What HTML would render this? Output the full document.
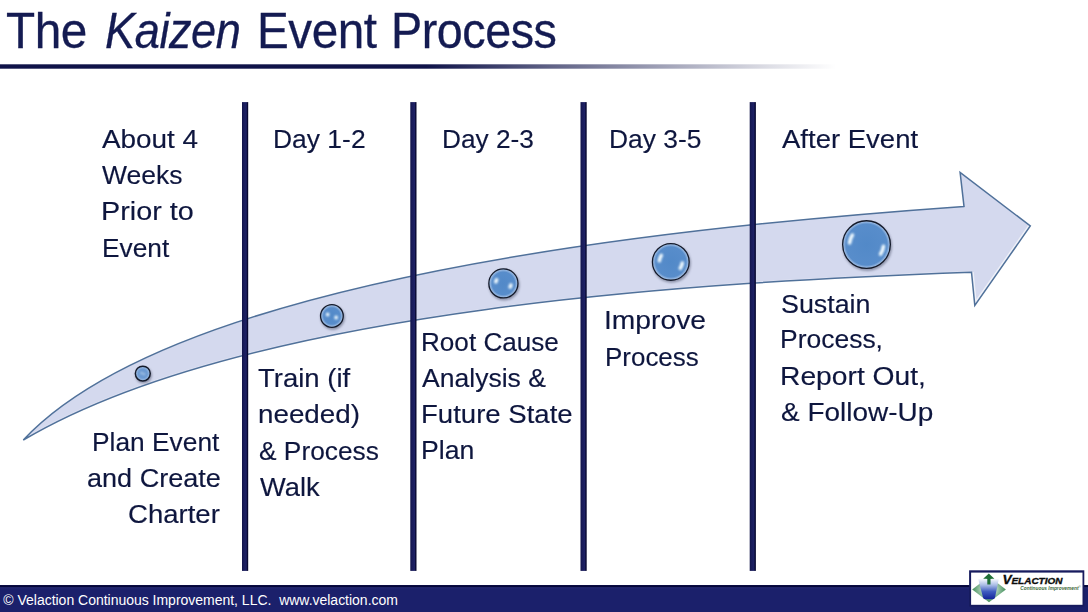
<!DOCTYPE html>
<html lang="en">
<head>
<meta charset="utf-8">
<title>The Kaizen Event Process</title>
<style>
html,body{margin:0;padding:0;}
body{width:1088px;height:612px;position:relative;overflow:hidden;background:#fff;font-family:"Liberation Sans",sans-serif;color:#0e163e;}
h1{position:absolute;margin:0;left:0;top:3px;width:600px;height:56px;font-weight:normal;font-size:50px;line-height:56px;white-space:nowrap;color:#141b52;-webkit-text-stroke:0.3px #141b52;}
h1 span{position:absolute;top:0;display:inline-block;transform-origin:0 0;}
svg.art{position:absolute;left:0;top:0;}
.t{position:absolute;margin:0;font-size:26px;line-height:36px;height:36px;white-space:nowrap;transform-origin:0 0;-webkit-text-stroke:0.15px #0e163e;}
.foot{position:absolute;left:0;top:585px;width:1088px;height:27px;background:linear-gradient(to bottom,#0c0e46 0,#05063a 1.5px,#05063a 2px,#252a72 2.6px,#1e236e 3.6px,#1b206b 5px,#1b206b 100%);}
.foot p{position:absolute;margin:0;left:3.3px;top:6px;font-size:14px;line-height:18px;color:#fff;white-space:pre;letter-spacing:-0.015px;}
</style>
</head>
<body>
<h1><span style="left:6.30px;letter-spacing:-0.50px;transform:scaleX(0.954)">The</span> <span style="left:104.85px;letter-spacing:-0.50px;transform:scaleX(0.904)"><i>Kaizen</i></span> <span style="left:256.85px;letter-spacing:-0.50px;transform:scaleX(0.953)">Event</span> <span style="left:391.05px;letter-spacing:-0.50px;transform:scaleX(0.934)">Process</span></h1>
<svg class="art" width="1088" height="612" viewBox="0 0 1088 612">
<defs>
<linearGradient id="rulefade" gradientUnits="userSpaceOnUse" x1="0" y1="0" x2="836" y2="0">
<stop offset="0" stop-color="#0f1349"/>
<stop offset="0.51" stop-color="#0f1349"/>
<stop offset="0.66" stop-color="#0f1349" stop-opacity="0.66"/>
<stop offset="0.8" stop-color="#0f1349" stop-opacity="0.38"/>
<stop offset="0.92" stop-color="#0f1349" stop-opacity="0.14"/>
<stop offset="1" stop-color="#0f1349" stop-opacity="0"/>
</linearGradient>
<linearGradient id="barg" x1="0" y1="0" x2="1" y2="0"><stop offset="0" stop-color="#111349"/><stop offset="0.3" stop-color="#191c5b"/><stop offset="0.68" stop-color="#1e2165"/><stop offset="0.86" stop-color="#080932"/><stop offset="1" stop-color="#080932"/></linearGradient>
<clipPath id="arrowclip"><path d="M23.3 440 C184.8 267.5 744.3 221.8 964 206.4 L960.1 172.3 L1030.3 226 L974.8 305.4 L971.5 272.3 C715.6 281.6 250.3 306 23.3 440 Z"/></clipPath>
<filter id="soft" filterUnits="userSpaceOnUse" x="100" y="200" width="900" height="200"><feGaussianBlur stdDeviation="1"/></filter>
<filter id="shadow" filterUnits="userSpaceOnUse" x="100" y="200" width="900" height="200"><feGaussianBlur stdDeviation="1.2"/></filter>
<radialGradient id="bg0" cx="50%" cy="50%" r="50%"><stop offset="0" stop-color="#6796d0"/><stop offset="0.580" stop-color="#6c9ad2"/><stop offset="0.827" stop-color="#8fb2de"/><stop offset="1" stop-color="#a9c5e8"/></radialGradient>
<radialGradient id="bg1" cx="50%" cy="50%" r="50%"><stop offset="0" stop-color="#5289c8"/><stop offset="0.717" stop-color="#588dcb"/><stop offset="0.883" stop-color="#8fb2de"/><stop offset="1" stop-color="#a9c5e8"/></radialGradient>
<radialGradient id="bg2" cx="50%" cy="50%" r="50%"><stop offset="0" stop-color="#5289c8"/><stop offset="0.776" stop-color="#588dcb"/><stop offset="0.908" stop-color="#8fb2de"/><stop offset="1" stop-color="#a9c5e8"/></radialGradient>
<radialGradient id="bg3" cx="50%" cy="50%" r="50%"><stop offset="0" stop-color="#5289c8"/><stop offset="0.821" stop-color="#588dcb"/><stop offset="0.926" stop-color="#8fb2de"/><stop offset="1" stop-color="#a9c5e8"/></radialGradient>
<radialGradient id="bg4" cx="50%" cy="50%" r="50%"><stop offset="0" stop-color="#5289c8"/><stop offset="0.861" stop-color="#588dcb"/><stop offset="0.943" stop-color="#8fb2de"/><stop offset="1" stop-color="#a9c5e8"/></radialGradient>
</defs>
<rect x="0" y="64.3" width="836" height="4.4" fill="url(#rulefade)"/>
<path d="M23.3 440 C184.8 267.5 744.3 221.8 964 206.4 L960.1 172.3 L1030.3 226 L974.8 305.4 L971.5 272.3 C715.6 281.6 250.3 306 23.3 440 Z" fill="#d4d9ee"/>
<g clip-path="url(#arrowclip)" fill="none">
<path d="M1030.3 226 L974.8 305.4 L971.5 272.3" stroke="#ffffff" stroke-width="4.5" opacity="0.6" stroke-linejoin="miter"/>
<path d="M971.5 272.3 C715.6 281.6 250.3 306 23.3 440" stroke="#ffffff" stroke-width="3" opacity="0.2"/>
</g>
<path d="M23.3 440 C184.8 267.5 744.3 221.8 964 206.4 L960.1 172.3 L1030.3 226 L974.8 305.4 L971.5 272.3 C715.6 281.6 250.3 306 23.3 440 Z" fill="none" stroke="#50719a" stroke-width="1.5" stroke-linejoin="miter"/>
<g>
<circle cx="143.60" cy="375.20" r="8.40" fill="#4b5068" opacity="0.5" filter="url(#shadow)"/>
<circle cx="142.80" cy="373.60" r="7.45" fill="url(#bg0)" stroke="#141a2a" stroke-width="1.45"/>
<path d="M141.57 373.17 A1.30 1.30 0 0 1 141.58 373.14" fill="none" stroke="#f0faff" stroke-width="1.70" stroke-linecap="round" opacity="1.00" filter="url(#soft)"/>
<path d="M144.03 374.03 A1.30 1.30 0 0 1 144.02 374.06" fill="none" stroke="#f0faff" stroke-width="1.70" stroke-linecap="round" opacity="1.00" filter="url(#soft)"/>
</g>
<g>
<circle cx="332.70" cy="317.60" r="12.30" fill="#4b5068" opacity="0.5" filter="url(#shadow)"/>
<circle cx="331.90" cy="316.00" r="11.35" fill="url(#bg1)" stroke="#141a2a" stroke-width="1.30"/>
<path d="M327.64 314.54 A4.50 4.50 0 0 1 327.70 314.38" fill="none" stroke="#f0faff" stroke-width="3.60" stroke-linecap="round" opacity="1.00" filter="url(#soft)"/>
<path d="M336.16 317.46 A4.50 4.50 0 0 1 336.10 317.62" fill="none" stroke="#f0faff" stroke-width="3.60" stroke-linecap="round" opacity="1.00" filter="url(#soft)"/>
</g>
<g>
<circle cx="504.20" cy="285.00" r="15.50" fill="#4b5068" opacity="0.5" filter="url(#shadow)"/>
<circle cx="503.40" cy="283.40" r="14.55" fill="url(#bg2)" stroke="#141a2a" stroke-width="1.30"/>
<path d="M495.86 281.82 A7.70 7.70 0 0 1 496.61 279.77" fill="none" stroke="#f0faff" stroke-width="3.60" stroke-linecap="round" opacity="1.00" filter="url(#soft)"/>
<path d="M510.94 284.98 A7.70 7.70 0 0 1 510.19 287.03" fill="none" stroke="#f0faff" stroke-width="3.60" stroke-linecap="round" opacity="1.00" filter="url(#soft)"/>
</g>
<g>
<circle cx="671.60" cy="263.50" r="19.30" fill="#4b5068" opacity="0.5" filter="url(#shadow)"/>
<circle cx="670.80" cy="261.90" r="18.35" fill="url(#bg3)" stroke="#141a2a" stroke-width="1.30"/>
<path d="M659.36 260.70 A11.50 11.50 0 0 1 661.27 255.47" fill="none" stroke="#f0faff" stroke-width="3.60" stroke-linecap="round" opacity="1.00" filter="url(#soft)"/>
<path d="M682.24 263.10 A11.50 11.50 0 0 1 680.33 268.33" fill="none" stroke="#f0faff" stroke-width="3.60" stroke-linecap="round" opacity="1.00" filter="url(#soft)"/>
</g>
<g>
<circle cx="867.30" cy="246.20" r="24.80" fill="#4b5068" opacity="0.5" filter="url(#shadow)"/>
<circle cx="866.50" cy="244.60" r="23.85" fill="url(#bg4)" stroke="#141a2a" stroke-width="1.30"/>
<path d="M849.59 242.82 A17.00 17.00 0 0 1 852.41 235.09" fill="none" stroke="#f0faff" stroke-width="3.60" stroke-linecap="round" opacity="1.00" filter="url(#soft)"/>
<path d="M883.41 246.38 A17.00 17.00 0 0 1 880.59 254.11" fill="none" stroke="#f0faff" stroke-width="3.60" stroke-linecap="round" opacity="1.00" filter="url(#soft)"/>
</g>
<g fill="url(#barg)">
<rect x="242.0" y="102.1" width="6.2" height="468.8"/>
<rect x="410.3" y="102.1" width="6.2" height="468.8"/>
<rect x="580.5" y="102.1" width="6.2" height="468.8"/>
<rect x="749.7" y="102.1" width="6.2" height="468.8"/>
</g>
</svg>
<p class="t" style="left:102.30px;top:121px;transform:scaleX(1.072)">About 4</p>
<p class="t" style="left:102.30px;top:157px;transform:scaleX(1.019)">Weeks</p>
<p class="t" style="left:100.95px;top:193px;transform:scaleX(1.106)">Prior to</p>
<p class="t" style="left:101.70px;top:230px;transform:scaleX(1.011)">Event</p>
<p class="t" style="left:273.20px;top:121px;transform:scaleX(1.017)">Day 1-2</p>
<p class="t" style="left:442.30px;top:121px;transform:scaleX(1.010)">Day 2-3</p>
<p class="t" style="left:609.20px;top:121px;transform:scaleX(1.016)">Day 3-5</p>
<p class="t" style="left:781.90px;top:121px;transform:scaleX(1.058)">After Event</p>
<p class="t" style="left:92.40px;top:424px;transform:scaleX(1.013)">Plan Event</p>
<p class="t" style="left:87.10px;top:460px;transform:scaleX(1.041)">and Create</p>
<p class="t" style="left:128.25px;top:496px;transform:scaleX(1.059)">Charter</p>
<p class="t" style="left:258.40px;top:360px;transform:scaleX(1.058)">Train (if</p>
<p class="t" style="left:258.25px;top:396px;transform:scaleX(1.068)">needed)</p>
<p class="t" style="left:258.95px;top:433px;transform:scaleX(1.012)">&amp; Process</p>
<p class="t" style="left:259.70px;top:469px;transform:scaleX(1.050)">Walk</p>
<p class="t" style="left:420.80px;top:324px;transform:scaleX(1.004)">Root Cause</p>
<p class="t" style="left:421.50px;top:360px;transform:scaleX(1.021)">Analysis &amp;</p>
<p class="t" style="left:420.55px;top:396px;transform:scaleX(1.060)">Future State</p>
<p class="t" style="left:420.80px;top:432px;transform:scaleX(1.025)">Plan</p>
<p class="t" style="left:604.20px;top:302px;transform:scaleX(1.086)">Improve</p>
<p class="t" style="left:604.70px;top:339px;transform:scaleX(0.998)">Process</p>
<p class="t" style="left:780.95px;top:286px;transform:scaleX(1.032)">Sustain</p>
<p class="t" style="left:780.20px;top:321px;transform:scaleX(1.018)">Process,</p>
<p class="t" style="left:780.25px;top:358px;transform:scaleX(1.086)">Report Out,</p>
<p class="t" style="left:781.00px;top:394px;transform:scaleX(1.075)">&amp; Follow-Up</p>
<div class="foot"><p>© Velaction Continuous Improvement, LLC.  www.velaction.com</p></div>
<svg class="art" width="1088" height="612" viewBox="0 0 1088 612">
<defs>
<linearGradient id="vg" x1="0" y1="0" x2="0" y2="1"><stop offset="0" stop-color="#f4f7fd"/><stop offset="0.3" stop-color="#a9bce6"/><stop offset="0.62" stop-color="#3f5cc0"/><stop offset="1" stop-color="#14249a"/></linearGradient>
<radialGradient id="gg" cx="50%" cy="50%" r="50%"><stop offset="0" stop-color="#e4efe6"/><stop offset="0.5" stop-color="#a6cbb0"/><stop offset="1" stop-color="#418f5a"/></radialGradient>
</defs>
<rect x="969.1" y="570.3" width="115.2" height="36.3" fill="#171b5e"/>
<rect x="971.1" y="572.6" width="111.4" height="32.2" fill="#ffffff"/>
<polygon points="972.2,589.6 989,576.6 1005.9,589.6 989,602.2" fill="url(#gg)"/>
<path d="M978.2 579.1 L998.8 579.1 L995 597.6 Q994.6 599.2 993 599.2 L985 599.2 Q983.4 599.2 983 597.6 Z" fill="url(#vg)"/>
<polygon points="988.8,573.6 994.4,578.8 990.5,578.8 990.5,584.6 987.3,584.6 987.3,578.8 983.2,578.8" fill="#1f6e37"/>
<text x="1002.4" y="583.8" font-family="'Liberation Sans',sans-serif" font-weight="bold" font-style="italic" font-size="12.8" fill="#0c0c0c" stroke="#0c0c0c" stroke-width="0.35" textLength="60" lengthAdjust="spacingAndGlyphs">V<tspan font-size="9.4">ELACTION</tspan></text>
<text x="1020.3" y="590.2" font-family="'Liberation Sans',sans-serif" font-weight="bold" font-style="italic" font-size="5.4" fill="#3d6a3a" textLength="58.2" lengthAdjust="spacingAndGlyphs">Continuous Improvement</text>
<text x="1078.8" y="588" font-family="'Liberation Sans',sans-serif" font-size="2.6" fill="#3d6a3a">®</text>
</svg>
</body>
</html>
